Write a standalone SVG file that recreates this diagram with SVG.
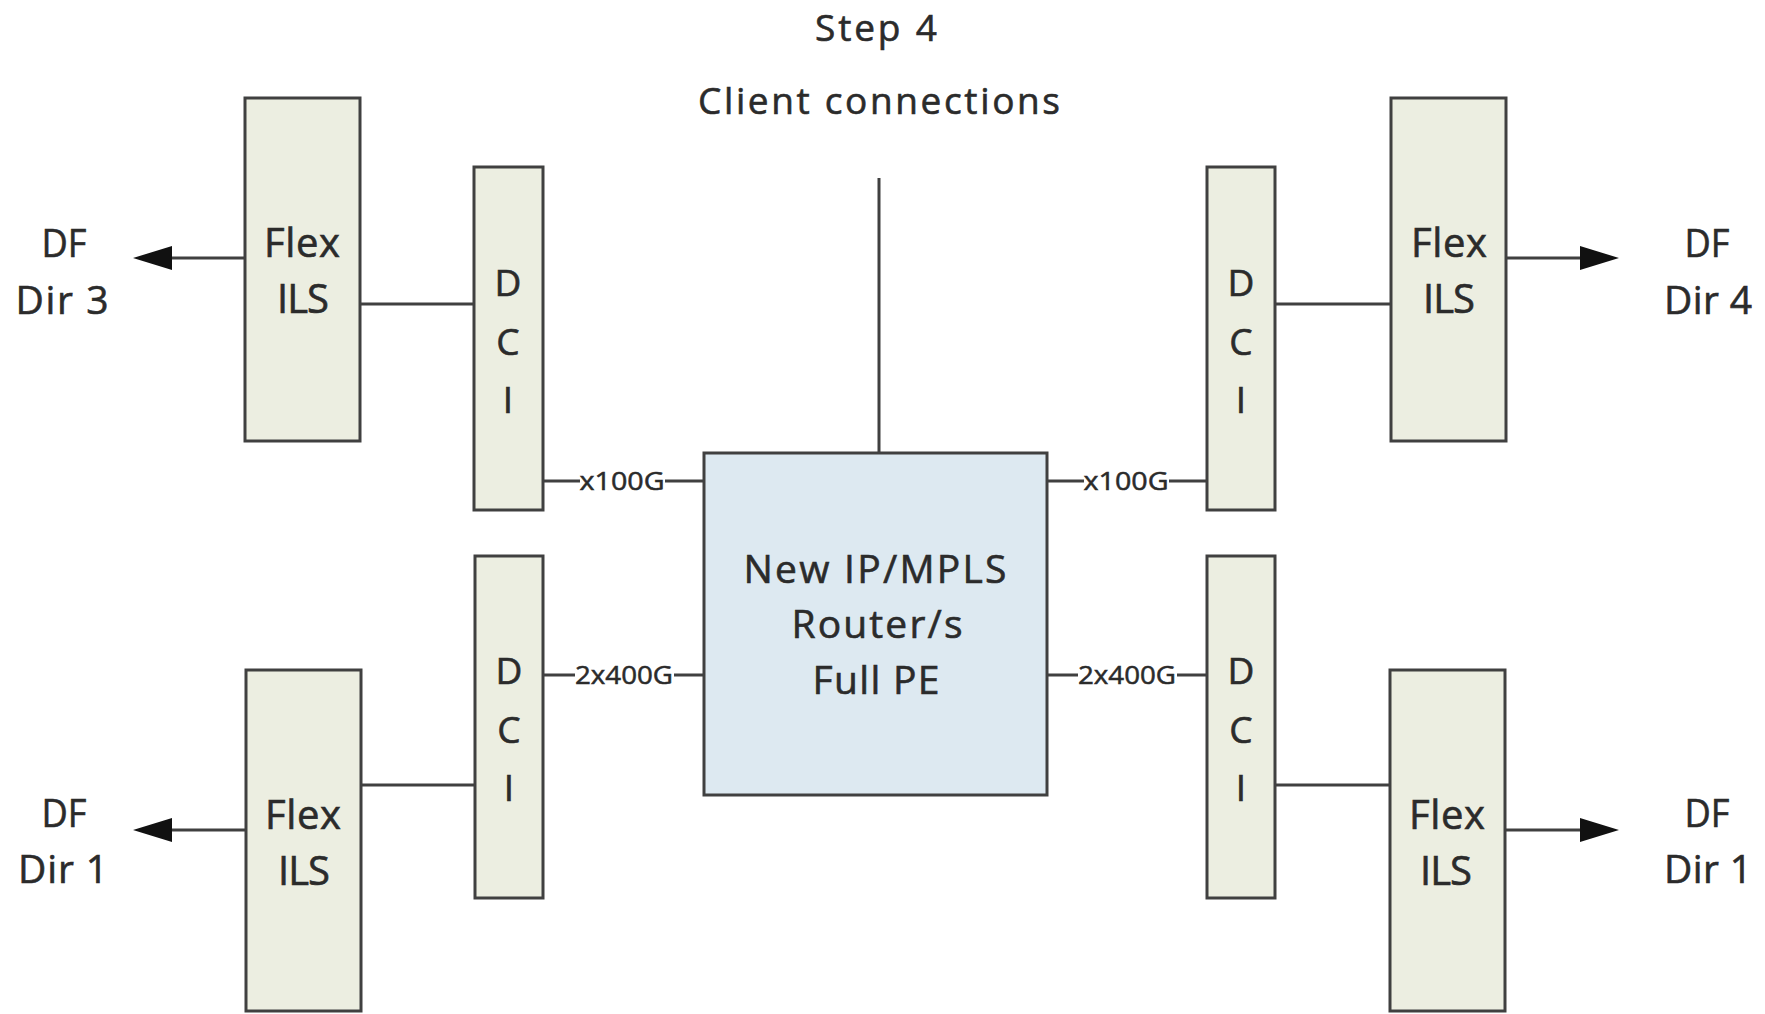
<svg xmlns="http://www.w3.org/2000/svg" width="1765" height="1014" viewBox="0 0 1765 1014">
<style>
  text { font-family: "Open Sans", "Liberation Sans", sans-serif; fill: #2b2b2b; stroke: #2b2b2b; stroke-width: 0.6px; text-anchor: middle; }
  .box { fill: #eceee1; stroke: #404040; stroke-width: 3; }
  .router { fill: #dde9f1; stroke: #404040; stroke-width: 3; }
  .ln { stroke: #404040; stroke-width: 3; fill: none; }
  .ah { fill: #111; }
  .t { font-size: 37px; }
  .df { font-size: 39px; }
  .flex { font-size: 40px; }
  .dci { font-size: 37px; }
  .rt { font-size: 39px; }
  .lbl { font-size: 25px; stroke-width: 0.5px; }
  .lblbg { fill: #ffffff; }
</style>
<rect width="1765" height="1014" fill="#ffffff"/>

<g id="title">
  <text class="t" x="876" y="41" textLength="122" lengthAdjust="spacing">Step 4</text>
  <text class="t" x="879" y="114" textLength="362" lengthAdjust="spacing">Client connections</text>
</g>

<g id="connectors">
  <line class="ln" x1="879" y1="178" x2="879" y2="453"/>
  <line class="ln" x1="245" y1="258" x2="170" y2="258"/>
  <polygon class="ah" points="133,258 172,246 172,270"/>
  <line class="ln" x1="360" y1="304" x2="474" y2="304"/>
  <line class="ln" x1="1506" y1="258" x2="1582" y2="258"/>
  <polygon class="ah" points="1619,258 1580,246 1580,270"/>
  <line class="ln" x1="1275" y1="304" x2="1391" y2="304"/>
  <line class="ln" x1="245" y1="830" x2="170" y2="830"/>
  <polygon class="ah" points="133,830 172,818 172,842"/>
  <line class="ln" x1="361" y1="785" x2="475" y2="785"/>
  <line class="ln" x1="1505" y1="830" x2="1582" y2="830"/>
  <polygon class="ah" points="1619,830 1580,818 1580,842"/>
  <line class="ln" x1="1275" y1="785" x2="1390" y2="785"/>
  <line class="ln" x1="543" y1="481" x2="704" y2="481"/>
  <line class="ln" x1="1047" y1="481" x2="1207" y2="481"/>
  <line class="ln" x1="543" y1="675" x2="704" y2="675"/>
  <line class="ln" x1="1047" y1="675" x2="1207" y2="675"/>
  <rect class="lblbg" x="580" y="469" width="85" height="24"/>
  <text class="lbl" x="622" y="490" textLength="85" lengthAdjust="spacingAndGlyphs">x100G</text>
  <rect class="lblbg" x="1084" y="469" width="85" height="24"/>
  <text class="lbl" x="1126" y="490" textLength="85" lengthAdjust="spacingAndGlyphs">x100G</text>
  <rect class="lblbg" x="575" y="663" width="99" height="24"/>
  <text class="lbl" x="624" y="684" textLength="98" lengthAdjust="spacingAndGlyphs">2x400G</text>
  <rect class="lblbg" x="1078" y="663" width="99" height="24"/>
  <text class="lbl" x="1127" y="684" textLength="98" lengthAdjust="spacingAndGlyphs">2x400G</text>
</g>

<g id="df-dir3">
  <text class="df" x="64" y="257" textLength="45" lengthAdjust="spacingAndGlyphs">DF</text>
  <text class="df" x="62" y="314" textLength="93" lengthAdjust="spacing">Dir 3</text>
</g>
<g id="df-dir4">
  <text class="df" x="1707" y="257" textLength="45" lengthAdjust="spacingAndGlyphs">DF</text>
  <text class="df" x="1708" y="314" textLength="88" lengthAdjust="spacing">Dir 4</text>
</g>
<g id="df-dir1-left">
  <text class="df" x="64" y="827" textLength="45" lengthAdjust="spacingAndGlyphs">DF</text>
  <text class="df" x="63" y="883" textLength="90" lengthAdjust="spacing">Dir 1</text>
</g>
<g id="df-dir1-right">
  <text class="df" x="1707" y="827" textLength="45" lengthAdjust="spacingAndGlyphs">DF</text>
  <text class="df" x="1708" y="883" textLength="88" lengthAdjust="spacing">Dir 1</text>
</g>

<g id="flex-tl">
  <rect class="box" x="245" y="98" width="115" height="343"/>
  <text class="flex" x="302" y="257" textLength="76" lengthAdjust="spacing">Flex</text>
  <text class="flex" x="303" y="313" textLength="52" lengthAdjust="spacing">ILS</text>
</g>
<g id="dci-tl">
  <rect class="box" x="474" y="167" width="69" height="343"/>
  <text class="dci" x="508" y="296">D</text>
  <text class="dci" x="508" y="355">C</text>
  <text class="dci" x="508" y="413">I</text>
</g>
<g id="flex-tr">
  <rect class="box" x="1391" y="98" width="115" height="343"/>
  <text class="flex" x="1449" y="257" textLength="76" lengthAdjust="spacing">Flex</text>
  <text class="flex" x="1449" y="313" textLength="52" lengthAdjust="spacing">ILS</text>
</g>
<g id="dci-tr">
  <rect class="box" x="1207" y="167" width="68" height="343"/>
  <text class="dci" x="1241" y="296">D</text>
  <text class="dci" x="1241" y="355">C</text>
  <text class="dci" x="1241" y="413">I</text>
</g>
<g id="dci-bl">
  <rect class="box" x="475" y="556" width="68" height="342"/>
  <text class="dci" x="509" y="684">D</text>
  <text class="dci" x="509" y="743">C</text>
  <text class="dci" x="509" y="801">I</text>
</g>
<g id="flex-bl">
  <rect class="box" x="246" y="670" width="115" height="341"/>
  <text class="flex" x="303" y="829" textLength="76" lengthAdjust="spacing">Flex</text>
  <text class="flex" x="304" y="885" textLength="52" lengthAdjust="spacing">ILS</text>
</g>
<g id="dci-br">
  <rect class="box" x="1207" y="556" width="68" height="342"/>
  <text class="dci" x="1241" y="684">D</text>
  <text class="dci" x="1241" y="743">C</text>
  <text class="dci" x="1241" y="801">I</text>
</g>
<g id="flex-br">
  <rect class="box" x="1390" y="670" width="115" height="341"/>
  <text class="flex" x="1447" y="829" textLength="76" lengthAdjust="spacing">Flex</text>
  <text class="flex" x="1446" y="885" textLength="52" lengthAdjust="spacing">ILS</text>
</g>

<g id="router">
  <rect class="router" x="704" y="453" width="343" height="342"/>
  <text class="rt" x="875" y="583" textLength="263" lengthAdjust="spacing">New IP/MPLS</text>
  <text class="rt" x="877" y="638" textLength="171" lengthAdjust="spacing">Router/s</text>
  <text class="rt" x="876" y="694" textLength="127" lengthAdjust="spacing">Full PE</text>
</g>
</svg>
